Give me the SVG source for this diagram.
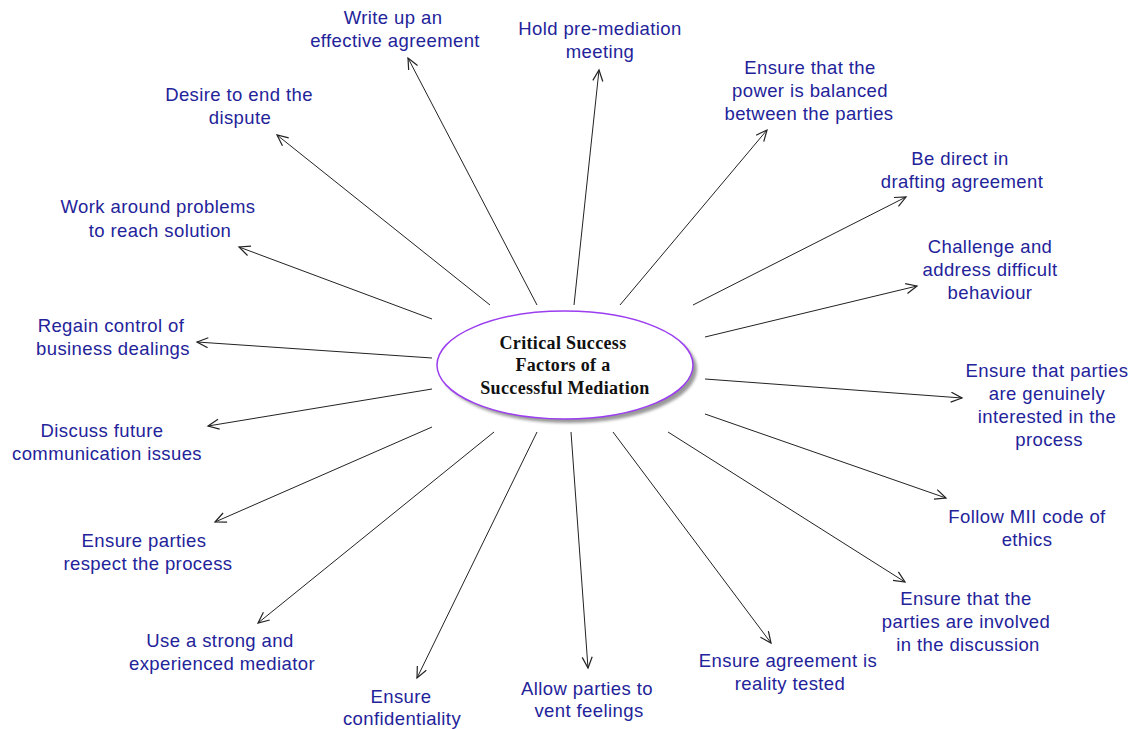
<svg xmlns="http://www.w3.org/2000/svg" width="1133" height="729" viewBox="0 0 1133 729">
<style>
.lbl{font-family:"Liberation Sans",Arial,sans-serif;font-size:18.5px;letter-spacing:0.4px;fill:#23239a;text-anchor:middle}
.ctr{font-family:"Liberation Serif","Times New Roman",serif;font-size:18px;font-weight:bold;fill:#111;text-anchor:middle;letter-spacing:0.35px}
.con line{stroke:#222;stroke-width:1;marker-end:url(#arr)}
</style>
<defs>
<marker id="arr" markerUnits="userSpaceOnUse" markerWidth="14" markerHeight="12" refX="12" refY="5.5" orient="auto">
<path d="M1,0.5 L12,5.5 L1,10.5" fill="none" stroke="#222" stroke-width="1.2"/>
</marker>
<filter id="blur" x="-10%" y="-10%" width="120%" height="130%"><feGaussianBlur stdDeviation="1.5"/></filter>
</defs>
<rect width="1133" height="729" fill="#fff"/>
<g id="connectors" class="con">
<line x1="537" y1="305" x2="408" y2="58"/>
<line x1="574" y1="305" x2="599" y2="70"/>
<line x1="620" y1="305" x2="767" y2="130"/>
<line x1="693" y1="305" x2="906" y2="197"/>
<line x1="705" y1="337" x2="917" y2="286"/>
<line x1="705" y1="379" x2="962" y2="398"/>
<line x1="705" y1="414" x2="946" y2="498"/>
<line x1="668" y1="432" x2="905" y2="582"/>
<line x1="613" y1="432" x2="771" y2="643"/>
<line x1="571" y1="432" x2="588" y2="668"/>
<line x1="537" y1="432" x2="417" y2="678"/>
<line x1="494" y1="432" x2="258" y2="623"/>
<line x1="432" y1="427" x2="215" y2="522"/>
<line x1="432" y1="389" x2="208" y2="426"/>
<line x1="432" y1="358" x2="197" y2="342"/>
<line x1="432" y1="319" x2="239" y2="247"/>
<line x1="490" y1="305" x2="277" y2="135"/>
</g>
<g id="center">
<ellipse cx="569" cy="369" rx="128" ry="54" fill="#999" filter="url(#blur)"/>
<ellipse cx="565" cy="365" rx="128" ry="54" fill="#fff" stroke="#9b3df0" stroke-width="1.5"/>
<text class="ctr"><tspan x="563" y="349">Critical Success</tspan><tspan x="563" y="371">Factors of a</tspan><tspan x="565" y="394">Successful Mediation</tspan></text>
</g>
<g id="n1"><text class="lbl"><tspan x="393" y="24">Write up an</tspan><tspan x="395" y="47">effective agreement</tspan></text></g>
<g id="n2"><text class="lbl"><tspan x="600" y="35">Hold pre-mediation</tspan><tspan x="600" y="58">meeting</tspan></text></g>
<g id="n3"><text class="lbl"><tspan x="810" y="74">Ensure that the</tspan><tspan x="810" y="97">power is balanced</tspan><tspan x="809" y="120">between the parties</tspan></text></g>
<g id="n4"><text class="lbl"><tspan x="960" y="165">Be direct in</tspan><tspan x="962" y="188">drafting agreement</tspan></text></g>
<g id="n5"><text class="lbl"><tspan x="990" y="253">Challenge and</tspan><tspan x="990" y="276">address difficult</tspan><tspan x="990" y="299">behaviour</tspan></text></g>
<g id="n6"><text class="lbl"><tspan x="1047" y="377">Ensure that parties</tspan><tspan x="1047" y="400">are genuinely</tspan><tspan x="1047" y="423">interested in the</tspan><tspan x="1049" y="446">process</tspan></text></g>
<g id="n7"><text class="lbl"><tspan x="1027" y="523">Follow MII code of</tspan><tspan x="1027" y="546">ethics</tspan></text></g>
<g id="n8"><text class="lbl"><tspan x="966" y="605">Ensure that the</tspan><tspan x="966" y="628">parties are involved</tspan><tspan x="968" y="651">in the discussion</tspan></text></g>
<g id="n9"><text class="lbl"><tspan x="788" y="667">Ensure agreement is</tspan><tspan x="790" y="690">reality tested</tspan></text></g>
<g id="n10"><text class="lbl"><tspan x="587" y="695">Allow parties to</tspan><tspan x="589" y="717">vent feelings</tspan></text></g>
<g id="n11"><text class="lbl"><tspan x="401" y="703">Ensure</tspan><tspan x="402" y="725">confidentiality</tspan></text></g>
<g id="n12"><text class="lbl"><tspan x="220" y="647">Use a strong and</tspan><tspan x="222" y="670">experienced mediator</tspan></text></g>
<g id="n13"><text class="lbl"><tspan x="144" y="547">Ensure parties</tspan><tspan x="148" y="570">respect the process</tspan></text></g>
<g id="n14"><text class="lbl"><tspan x="102" y="437">Discuss future</tspan><tspan x="107" y="460">communication issues</tspan></text></g>
<g id="n15"><text class="lbl"><tspan x="111" y="332">Regain control of</tspan><tspan x="113" y="355">business dealings</tspan></text></g>
<g id="n16"><text class="lbl"><tspan x="158" y="213">Work around problems</tspan><tspan x="160" y="237">to reach solution</tspan></text></g>
<g id="n17"><text class="lbl"><tspan x="239" y="101">Desire to end the</tspan><tspan x="240" y="124">dispute</tspan></text></g>
</svg>
